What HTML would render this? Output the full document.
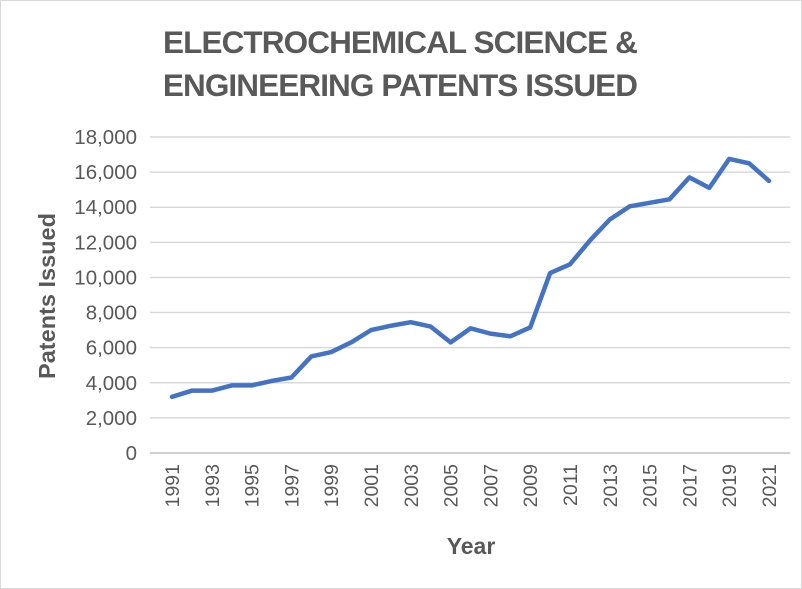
<!DOCTYPE html>
<html><head><meta charset="utf-8"><style>
body{margin:0;background:#fff;}
svg{display:block;font-family:"Liberation Sans",Arial,sans-serif;}
</style></head><body>
<svg id="chart" width="802" height="589">
<rect x="0.5" y="0.5" width="801" height="588" fill="#fff" stroke="#d9d9d9"/>
<text x="400" y="53" text-anchor="middle" font-size="31.5" font-weight="bold" fill="#595959" letter-spacing="-0.9">ELECTROCHEMICAL SCIENCE &amp;</text>
<text x="400" y="96" text-anchor="middle" font-size="31.5" font-weight="bold" fill="#595959" letter-spacing="-0.9">ENGINEERING PATENTS ISSUED</text>
<text transform="translate(55,296) rotate(-90)" text-anchor="middle" font-size="23.5" font-weight="bold" fill="#595959">Patents Issued</text>
<text x="471" y="554" text-anchor="middle" font-size="23" font-weight="bold" fill="#595959">Year</text>
<g id="grid"></g><g id="yt"></g><g id="xt"></g><g id="series"></g>
</svg>
<script>
const years=[1991,1992,1993,1994,1995,1996,1997,1998,1999,2000,2001,2002,2003,2004,2005,2006,2007,2008,2009,2010,2011,2012,2013,2014,2015,2016,2017,2018,2019,2020,2021];
const patents=[3200,3550,3550,3850,3850,4100,4300,5500,5750,6300,7000,7250,7450,7200,6300,7100,6800,6650,7150,10250,10750,12100,13300,14050,14250,14450,15700,15100,16750,16500,15500];
const yTicks=[0,2000,4000,6000,8000,10000,12000,14000,16000,18000];
const ns="http://www.w3.org/2000/svg";
const G0=150,G1=790,XF=172,XL=769,Y0=453,Y1=137;
function xs(i){return XF+(XL-XF)*i/(years.length-1);}
function ys(v){return Y0-(Y0-Y1)*v/18000;}
const grid=document.getElementById('grid'),yt=document.getElementById('yt'),xt=document.getElementById('xt'),ser=document.getElementById('series');
yTicks.forEach(t=>{
 const l=document.createElementNS(ns,'line');
 l.setAttribute('x1',G0);l.setAttribute('x2',G1);l.setAttribute('y1',ys(t));l.setAttribute('y2',ys(t));
 l.setAttribute('stroke',t===0?'#bfbfbf':'#d9d9d9');l.setAttribute('stroke-width','1.5');
 
 
 grid.appendChild(l);
 const tx=document.createElementNS(ns,'text');
 tx.setAttribute('x',137);tx.setAttribute('y',ys(t)+7);tx.setAttribute('text-anchor','end');
 tx.setAttribute('font-size','20.5');tx.setAttribute('fill','#595959');
 tx.textContent=t.toLocaleString('en-US');
 
 
 yt.appendChild(tx);
});
years.forEach((y,i)=>{
 if(i%2)return;
 const tx=document.createElementNS(ns,'text');
 const x=xs(i)+7;
 tx.setAttribute('transform','translate('+x+',464) rotate(-90)');
 tx.setAttribute('text-anchor','end');tx.setAttribute('font-size','19.5');tx.setAttribute('fill','#595959');
 tx.textContent=y;
 
 
 xt.appendChild(tx);
});
const p=document.createElementNS(ns,'polyline');
p.setAttribute('points',patents.map((v,i)=>xs(i)+','+ys(v)).join(' '));
p.setAttribute('fill','none');p.setAttribute('stroke','#4472c4');p.setAttribute('stroke-width','4.5');p.setAttribute('stroke-linejoin','round');p.setAttribute('stroke-linecap','round');


ser.appendChild(p);
</script>
</body></html>
